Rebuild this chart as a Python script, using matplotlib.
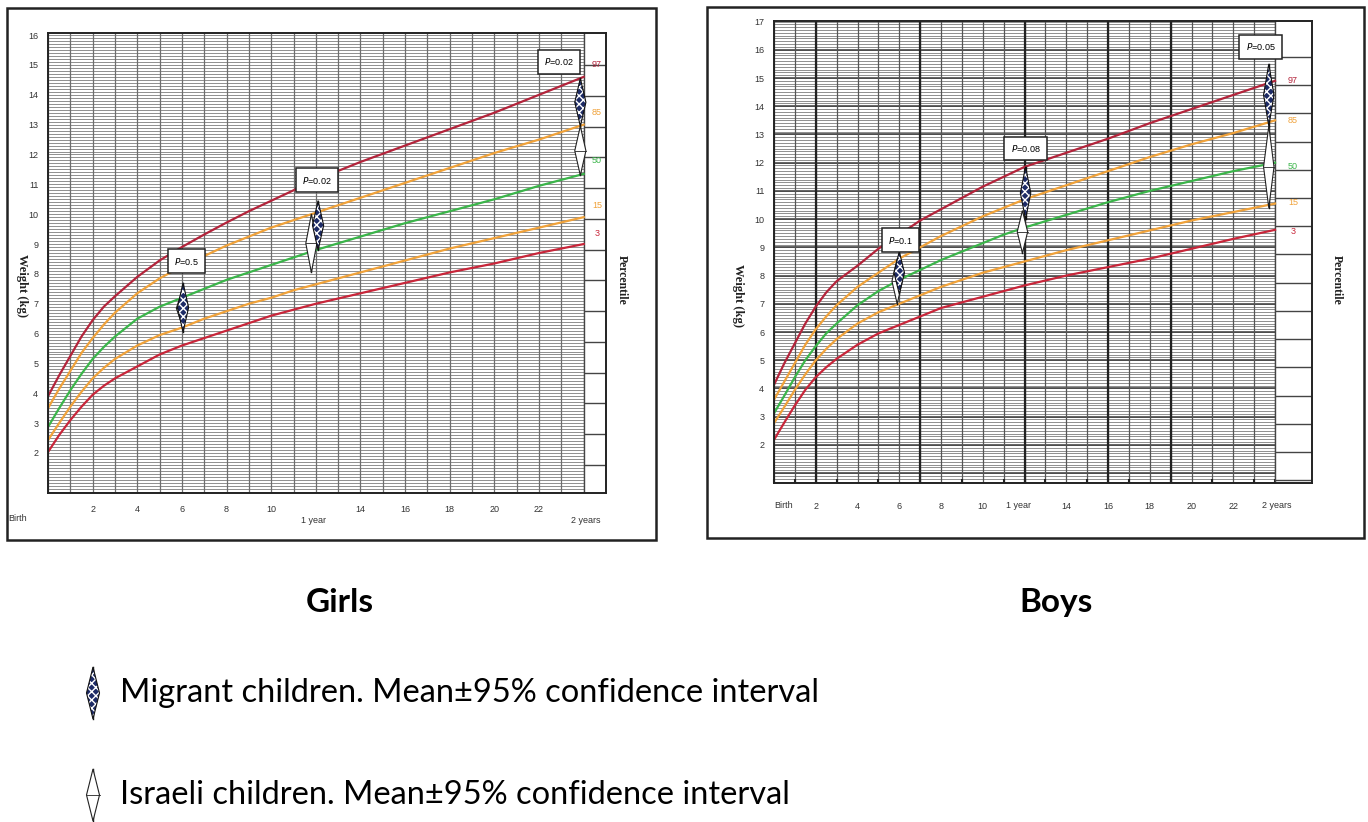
import numpy as np
import matplotlib.pyplot as plt
from matplotlib.patches import Polygon, Rectangle

# ---- data ----
months = [0, 0.5, 1, 1.5, 2, 2.5, 3, 4, 5, 6, 7, 8, 9, 10, 11, 12, 14, 16, 18, 20, 22, 24]

girls_p97 = [3.9, 4.6, 5.25, 5.9, 6.45, 6.9, 7.25, 7.9, 8.45, 8.9, 9.32, 9.72, 10.1, 10.45, 10.8, 11.15, 11.75, 12.3, 12.85, 13.4, 14.0, 14.6]
girls_p85 = [3.5, 4.15, 4.75, 5.35, 5.85, 6.3, 6.7, 7.35, 7.85, 8.25, 8.6, 8.95, 9.25, 9.55, 9.8, 10.05, 10.55, 11.05, 11.55, 12.05, 12.5, 13.0]
girls_p50 = [2.87, 3.5, 4.1, 4.65, 5.15, 5.55, 5.9, 6.5, 6.9, 7.2, 7.5, 7.8, 8.05, 8.3, 8.55, 8.8, 9.25, 9.7, 10.1, 10.5, 10.95, 11.35]
girls_p15 = [2.43, 3.0, 3.55, 4.05, 4.5, 4.85, 5.15, 5.6, 5.95, 6.2, 6.5, 6.75, 7.0, 7.2, 7.45, 7.65, 8.05, 8.45, 8.85, 9.2, 9.55, 9.9]
girls_p3 = [2.03, 2.6, 3.1, 3.55, 3.95, 4.25, 4.5, 4.9, 5.3, 5.6, 5.85, 6.1, 6.35, 6.6, 6.8, 7.0, 7.35, 7.7, 8.05, 8.35, 8.7, 9.0]

boys_p97 = [4.13, 4.9, 5.6, 6.3, 6.9, 7.4, 7.8, 8.35, 8.95, 9.45, 9.95, 10.35, 10.75, 11.15, 11.5, 11.85, 12.35, 12.85, 13.4, 13.9, 14.4, 14.9]
boys_p85 = [3.6, 4.25, 4.9, 5.55, 6.1, 6.55, 6.95, 7.6, 8.1, 8.6, 9.0, 9.4, 9.75, 10.1, 10.4, 10.7, 11.2, 11.7, 12.2, 12.65, 13.05, 13.5]
boys_p50 = [3.12, 3.75, 4.4, 5.0, 5.5, 5.95, 6.3, 6.95, 7.45, 7.85, 8.2, 8.55, 8.85, 9.15, 9.45, 9.7, 10.15, 10.6, 11.0, 11.35, 11.7, 12.0]
boys_p15 = [2.77, 3.35, 3.95, 4.5, 5.0, 5.4, 5.75, 6.3, 6.7, 7.0, 7.3, 7.6, 7.85, 8.1, 8.3, 8.5, 8.9, 9.25, 9.6, 9.95, 10.25, 10.55]
boys_p3 = [2.18, 2.8, 3.4, 3.95, 4.4, 4.75, 5.05, 5.55, 5.95, 6.25, 6.55, 6.85, 7.05, 7.25, 7.45, 7.65, 8.0, 8.3, 8.6, 8.95, 9.3, 9.62]

percentiles = ["97", "85", "50", "15", "3"]
pct_colors = ["#b3243b", "#f0a23a", "#3bb54a", "#f0a23a", "#c8263a"]
girls_pct_label_y = [15.0, 13.4, 11.8, 10.3, 9.37]
boys_pct_label_y = [14.9, 13.5, 11.86, 10.58, 9.55]

# mean +-95% CI (low, high) at the visit ages
girls_mig_x = [6.05, 12.1, 23.85]
girls_mig_lo = [6.05, 8.8, 12.95]
girls_mig_hi = [7.7, 10.45, 14.55]
girls_isr_x = [6.0, 11.8, 23.85]
girls_isr_lo = [6.3, 8.05, 11.3]
girls_isr_hi = [7.4, 10.0, 12.95]

boys_mig_x = [6.0, 12.05, 23.7]
boys_mig_lo = [7.35, 10.0, 13.3]
boys_mig_hi = [8.85, 11.85, 15.5]
boys_isr_x = [5.9, 11.9, 23.7]
boys_isr_lo = [7.0, 8.8, 10.4]
boys_isr_hi = [8.6, 10.3, 13.3]

girls_p_x = [6.2, 12.05, 22.9]
girls_p_y = [8.43, 11.14, 15.1]
girls_p_txt = ["0.5", "0.02", "0.02"]
boys_p_x = [6.05, 12.05, 23.3]
boys_p_y = [9.25, 12.5, 16.1]
boys_p_txt = ["0.1", "0.08", "0.05"]

xtick_vals = [2, 4, 6, 8, 10, 14, 16, 18, 20, 22]

W, H = 1368, 822
fig = plt.figure(figsize=(13.68, 8.22), dpi=100)
sans = "Liberation Sans"
serif = "Liberation Serif"


def px_axes(x0, y0, x1, y1):
    return fig.add_axes([x0 / W, 1 - y1 / H, (x1 - x0) / W, (y1 - y0) / H])


# background layer in pixel coordinates (frames, titles, legend)
bg = fig.add_axes([0, 0, 1, 1])
bg.set_xlim(0, W)
bg.set_ylim(H, 0)
bg.axis("off")
bg.set_zorder(-1)


def diamond(ax, x, lo, hi, w, migrant):
    mid = (lo + hi) / 2
    pts = [(x, lo), (x + w / 2, mid), (x, hi), (x - w / 2, mid)]
    ax.plot([x, x], [lo, hi], color="#111", lw=1.0, zorder=5)
    if migrant:
        ax.add_patch(Polygon(pts, closed=True, fc="#1d2b66", ec="white", hatch="xxxx", lw=0, zorder=6))
        ax.add_patch(Polygon(pts, closed=True, fc="none", ec="#111", lw=0.8, zorder=7))
    else:
        ax.add_patch(Polygon(pts, closed=True, fc="white", ec="#222", lw=0.8, zorder=6))
        ax.plot([x - w / 2, x + w / 2], [mid, mid], color="#222", lw=0.6, zorder=6)


def chart(ax, curves, xmax, ylo, yhi, ymax_lab, boys, col_lines, lab_y, lab_x,
          mig, isr, pbox, dw):
    ax.set_xlim(0, xmax)
    ax.set_ylim(ylo, yhi)
    fine = np.arange(np.ceil(ylo * 10) / 10, yhi, 0.1)
    ax.hlines(fine, 0, 24, colors="#8f8f8f", lw=0.7, zorder=1)
    if boys:
        ax.hlines(np.arange(1, 17), 0, 24, colors="#3a3a3a", lw=1.1, zorder=1.2)
        ax.vlines(np.arange(0, 25), ylo, yhi, colors="#555", lw=0.9, zorder=1.5)
        ax.vlines([2, 7, 12, 16, 19], ylo, yhi, colors="#222", lw=1.6, zorder=1.6)
    else:
        ax.vlines(np.arange(0, 25), ylo, yhi, colors="#6d6d6d", lw=0.9, zorder=1.5)
    ax.add_patch(Rectangle((24, ylo), xmax - 24, yhi - ylo, fc="white", ec="none", zorder=2))
    ax.hlines(col_lines, 24, xmax, colors="#444", lw=1.0, zorder=2.5)
    ax.axvline(24, color="#444", lw=1.0, zorder=2.5)

    for vals, c in zip(curves, pct_colors):
        ax.plot(months, vals, color=c, lw=1.6, zorder=3)
    for t, c, y in zip(percentiles, pct_colors, lab_y):
        ax.text(lab_x, y, t, color=c, fontsize=6.5, family=sans, ha="center", va="center", zorder=4)

    for x, lo, hi in zip(*isr):
        diamond(ax, x, lo, hi, dw, False)
    for x, lo, hi in zip(*mig):
        diamond(ax, x, lo, hi, dw, True)
    for x, y, t in zip(*pbox):
        ax.text(x, y, r"$\it{P}$=" + t, fontsize=6.5, family=sans, ha="center", va="center", zorder=8,
                bbox=dict(boxstyle="square,pad=0.7", fc="white", ec="#222", lw=1.1))

    ax.set_yticks(range(2, ymax_lab + 1))
    ax.set_yticklabels([str(v) for v in range(2, ymax_lab + 1)], family=sans)
    ax.set_xticks(xtick_vals)
    ax.set_xticklabels([str(v) for v in xtick_vals], family=sans)
    ax.tick_params(axis="both", length=0, labelsize=6.5, labelcolor="#333")
    ax.tick_params(axis="y", pad=7)
    for s in ax.spines.values():
        s.set_linewidth(1.4)
        s.set_color("#222")
        s.set_zorder(9)


# ---- Girls ----
axg = px_axes(48, 33, 606, 493)
chart(axg, [girls_p97, girls_p85, girls_p50, girls_p15, girls_p3], 25, 0.66, 16.07, 16, False,
      np.arange(1.6, 15.2, 1.03), girls_pct_label_y, 24.6,
      (girls_mig_x, girls_mig_lo, girls_mig_hi), (girls_isr_x, girls_isr_lo, girls_isr_hi),
      (girls_p_x, girls_p_y, girls_p_txt), 0.5)
axg.tick_params(axis="x", pad=9)
axg.text(-1.35, -0.045, "Birth", transform=axg.get_xaxis_transform(), fontsize=6.5, family=sans,
         color="#333", ha="center", va="top")
axg.text(11.9, -0.05, "1 year", transform=axg.get_xaxis_transform(), fontsize=6.5, family=sans,
         color="#333", ha="center", va="top")
axg.text(24.1, -0.05, "2 years", transform=axg.get_xaxis_transform(), fontsize=6.5, family=sans,
         color="#333", ha="center", va="top")

# ---- Boys ----
axb = px_axes(774, 21, 1312, 483)
chart(axb, [boys_p97, boys_p85, boys_p50, boys_p15, boys_p3], 25.77, 0.65, 17.02, 17, True,
      np.arange(0.75, 16.5, 1.0), boys_pct_label_y, 24.86,
      (boys_mig_x, boys_mig_lo, boys_mig_hi), (boys_isr_x, boys_isr_lo, boys_isr_hi),
      (boys_p_x, boys_p_y, boys_p_txt), 0.5)
axb.tick_params(axis="x", pad=14)
axb.set_xticks(range(0, 25), minor=True)
axb.tick_params(axis="x", which="minor", length=3, width=1.5, direction="in", color="#222")
for x, t in [(0.45, "Birth"), (11.7, "1 year"), (24.1, "2 years")]:
    axb.text(x, -0.04, t, transform=axb.get_xaxis_transform(), fontsize=6.5, family=sans,
             color="#333", ha="center", va="top")

# axis titles
for x, y in [(22, 285), (738, 295)]:
    bg.text(x, y, "Weight (kg)", rotation=-90, fontsize=9, family=serif, weight="bold",
            ha="center", va="center", color="#222")
for x, y in [(622, 280), (1337, 280)]:
    bg.text(x, y, "Percentile", rotation=-90, fontsize=8.5, family=serif, weight="bold",
            ha="center", va="center", color="#222")

# outer frames
bg.add_patch(Rectangle((7, 8), 649, 532, fc="none", ec="#222", lw=1.8))
bg.add_patch(Rectangle((707, 7), 657, 531, fc="none", ec="#222", lw=1.8))

# panel titles
bg.text(340, 602, "Girls", fontsize=24, family="Lato", weight="bold", ha="center", va="center")
bg.text(1056, 602, "Boys", fontsize=24, family="Lato", weight="bold", ha="center", va="center")

# legend
leg_y = [693, 795]
leg_txt = ["Migrant children. Mean\u00b195% confidence interval",
           "Israeli children. Mean\u00b195% confidence interval"]
for i, (y, t) in enumerate(zip(leg_y, leg_txt)):
    diamond(bg, 93, y + 26, y - 26, 13, i == 0)
    bg.text(120, y, t, fontsize=23.5, family="Lato", ha="left", va="center")

fig.savefig("out.png", dpi=100)
